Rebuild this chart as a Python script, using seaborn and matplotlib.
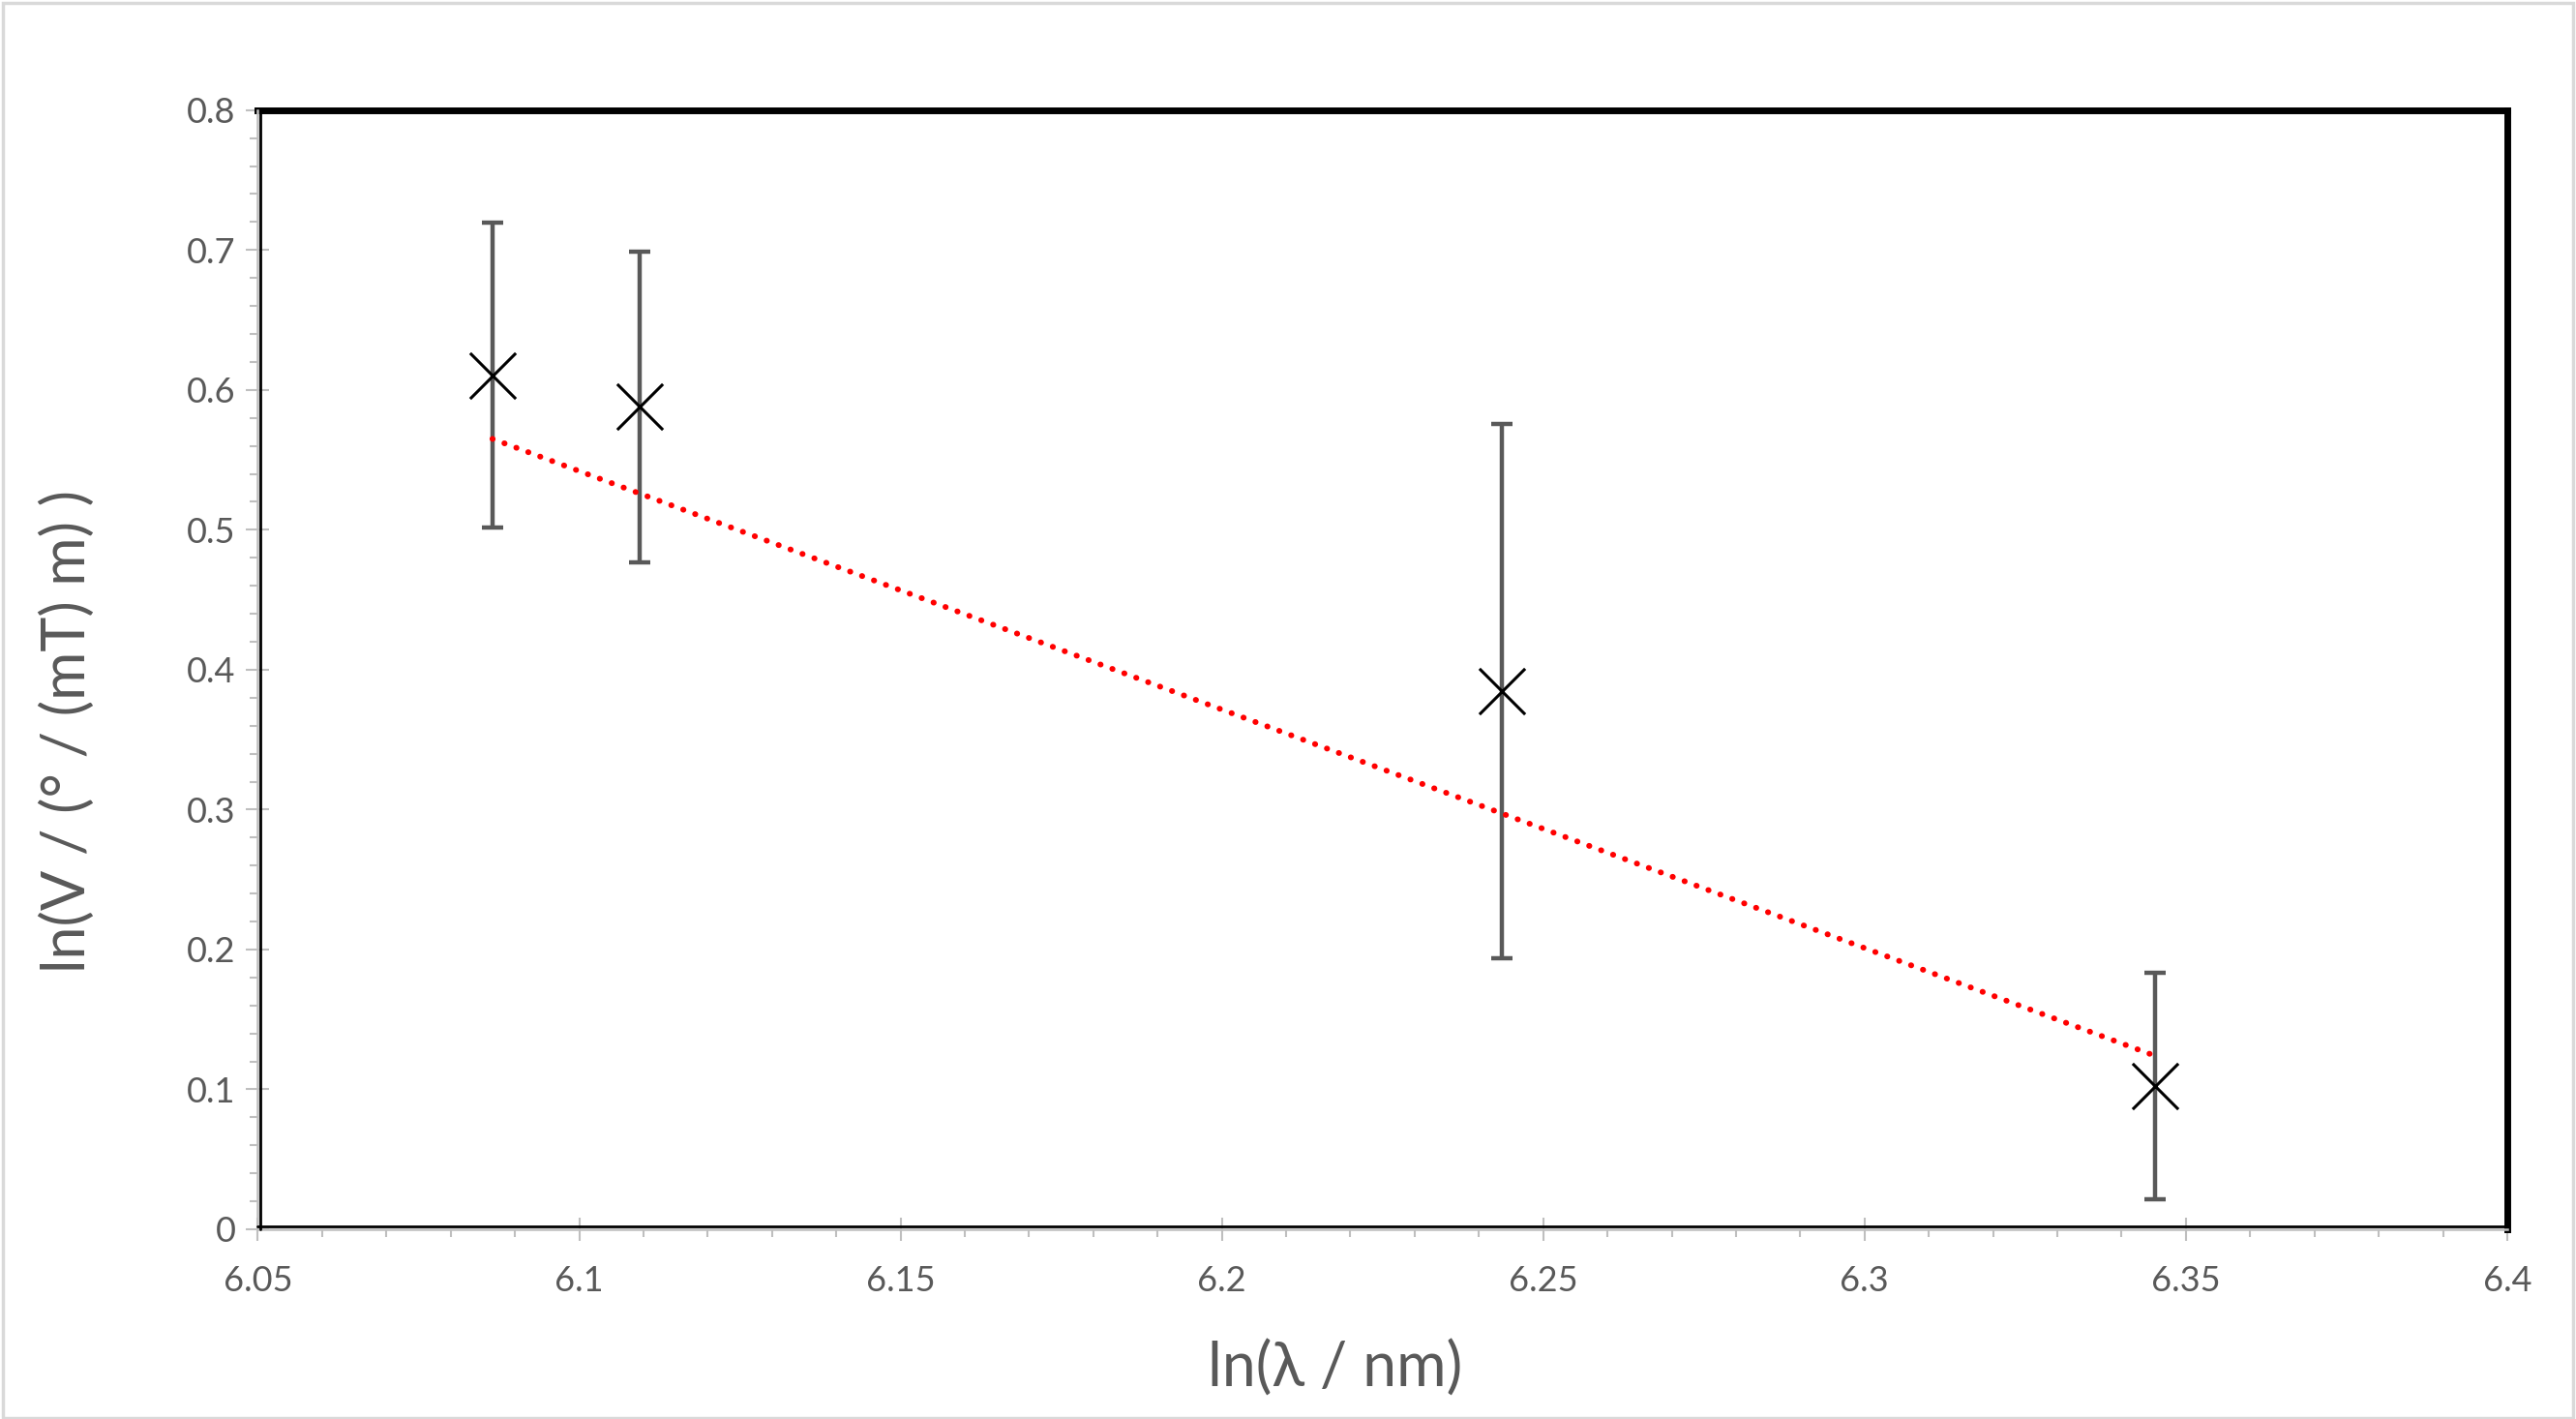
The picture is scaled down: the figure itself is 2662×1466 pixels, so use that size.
import numpy as np
import pandas as pd
import matplotlib
matplotlib.use("Agg")
import matplotlib.pyplot as plt
import matplotlib.transforms as mtransforms
from matplotlib.patches import Rectangle
from matplotlib.ticker import MultipleLocator
import seaborn as sns

# measured points: ln(wavelength / nm) vs ln(Verdet constant)
ln_lambda = [6.0865, 6.1094, 6.2436, 6.3452]
ln_verdet = [0.6106, 0.5880, 0.3847, 0.1024]
ln_verdet_err = [0.109, 0.111, 0.191, 0.081]

# linear trend line (end points as shown on the chart)
trend_x = [6.0865, 6.3452]
trend_y = [0.565, 0.124]

x_label = "ln(λ / nm)"
y_label = "ln(V / (° / (mT) m) )"

GREY_TEXT = "#595959"
GREY_AXIS = "#bfbfbf"


def main():
    sns.set_theme(style="white")
    plt.rcParams["font.family"] = ["Lato", "DejaVu Sans"]

    df = pd.DataFrame({"x": ln_lambda, "y": ln_verdet, "err": ln_verdet_err})
    trend = pd.DataFrame({"x": trend_x, "y": trend_y})

    fig = plt.figure(figsize=(26.62, 14.66), dpi=100)
    ax = fig.add_axes([0.1001, 0.1337, 0.8732, 0.7887])

    ax.errorbar(df["x"], df["y"], yerr=df["err"], fmt="none", ecolor=GREY_TEXT,
                elinewidth=3.2, capsize=8, capthick=3.2, zorder=2)
    sns.lineplot(data=trend, x="x", y="y", ax=ax, color="red", linewidth=4.3,
                 zorder=3)
    ax.lines[-1].set_dashes((0.05, 2.15))
    ax.lines[-1].set_dash_capstyle("round")
    sns.scatterplot(data=df, x="x", y="y", ax=ax, marker="x", s=34 ** 2,
                    color="black", linewidth=2.2, zorder=4)

    ax.set_xlim(6.05, 6.4)
    ax.set_ylim(0, 0.8)
    ax.xaxis.set_major_locator(MultipleLocator(0.05))
    ax.xaxis.set_minor_locator(MultipleLocator(0.01))
    ax.yaxis.set_major_locator(MultipleLocator(0.1))
    ax.yaxis.set_minor_locator(MultipleLocator(0.02))
    ax.set_xticklabels([f"{v:g}" for v in ax.get_xticks()])
    ax.set_yticklabels([f"{v:g}" for v in ax.get_yticks()])

    ax.tick_params(which="major", direction="inout", length=17, width=1.5,
                   color=GREY_AXIS, labelcolor=GREY_TEXT, labelsize=26)
    ax.tick_params(which="minor", direction="out", length=5.5, width=1.5,
                   color=GREY_AXIS)
    ax.tick_params(axis="x", which="major", pad=18)
    ax.tick_params(axis="y", which="major", pad=8)
    ax.tick_params(bottom=True, left=True, which="both")

    for side in ["top", "right"]:
        ax.spines[side].set_color("black")
        ax.spines[side].set_linewidth(5)
    for side in ["left", "bottom"]:
        ax.spines[side].set_color(GREY_AXIS)
        ax.spines[side].set_linewidth(1.8)
        ax.spines[side].set_zorder(5)

    # black plot-area border just inside the grey axis lines
    right_in = mtransforms.offset_copy(ax.transAxes, fig, x=3, units="dots")
    up_in = mtransforms.offset_copy(ax.transAxes, fig, y=3, units="dots")
    ax.plot([0, 0], [0, 1], transform=right_in, color="black", lw=2,
            clip_on=False, zorder=6)
    ax.plot([0, 1], [0, 0], transform=up_in, color="black", lw=2,
            clip_on=False, zorder=6)

    ax.set_xlabel(x_label, fontsize=45, color=GREY_TEXT)
    ax.set_ylabel(y_label, fontsize=44, color=GREY_TEXT)
    ax.xaxis.set_label_coords(0.479, -0.1245)
    ax.xaxis.label.set_va("center")
    ax.yaxis.set_label_coords(-0.0845, 0.445)
    ax.yaxis.label.set_va("center")

    # light grey chart border
    fig.patches.append(Rectangle((0.001, 0.001), 0.998, 0.997,
                                 transform=fig.transFigure, fill=False,
                                 edgecolor="#d9d9d9", linewidth=2.5))

    fig.savefig("out.png", dpi=100)
    plt.close(fig)


if __name__ == "__main__":
    main()
